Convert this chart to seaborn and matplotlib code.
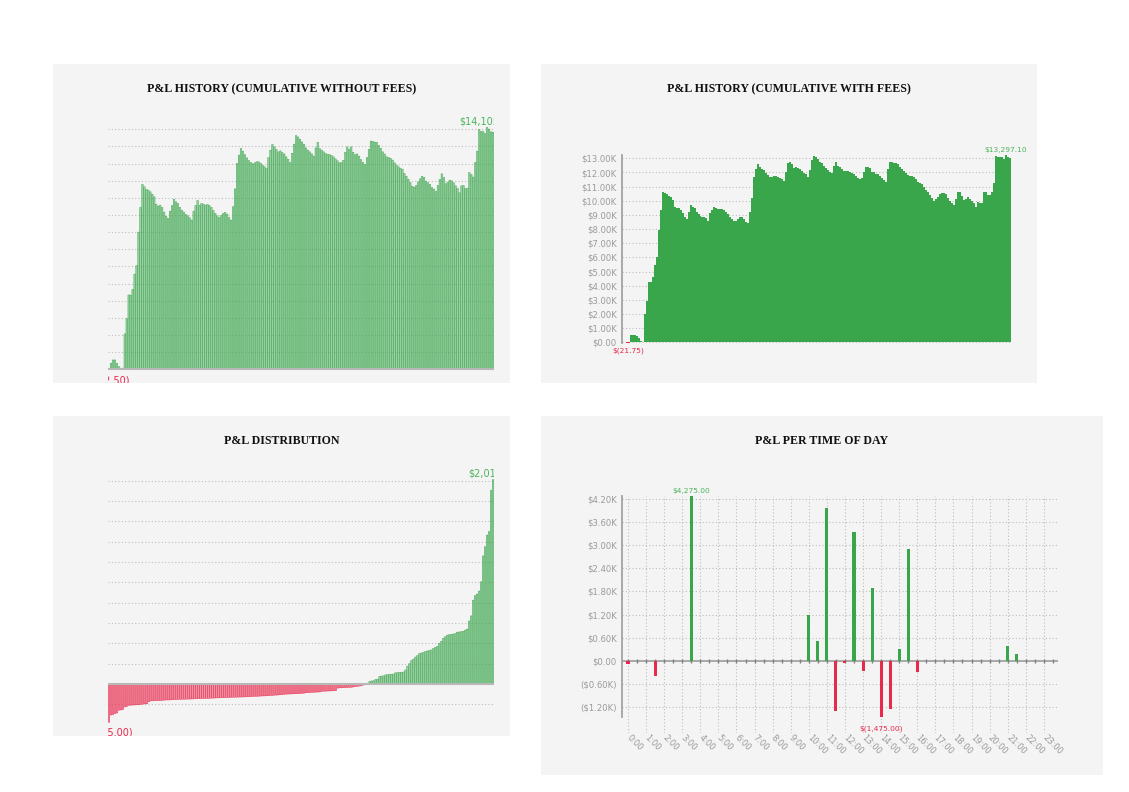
import numpy as np
import pandas as pd
import matplotlib
matplotlib.use("Agg")
import matplotlib.pyplot as plt
import matplotlib.transforms as mtrans
from matplotlib.patches import Rectangle
import seaborn as sns

# ---------------- data ----------------
cum_pnl_without_fees = [
    -12.5, 350, 540, 540, 350, 155, 60, 0,
    2060, 2950, 4330, 4330, 4660, 5550, 6040, 8000, 9440,
    10780, 10640, 10490, 10450, 10350, 10210, 10060, 9630, 9510, 9570, 9440, 9170, 8930, 8800,
    9220, 9550, 9920, 9770, 9670, 9440, 9280, 9170, 9030, 8950, 8830, 8700,
    9220, 9550, 9840, 9570, 9670, 9630, 9570, 9610, 9550, 9440, 9260, 9090, 8950, 8850,
    8970, 9090, 9150, 9050, 8850, 8700,
    9480, 10520, 12000,
    12490, 12870, 12720, 12520, 12330, 12170, 12060, 11980, 12040, 12100, 12100, 12020, 11900, 11810, 11710,
    12350, 12780, 13110, 12970, 12820, 12680, 12740, 12640, 12560, 12390, 12250, 12060,
    12600, 13130, 13630, 13550, 13420, 13260, 13130, 12910, 12780, 12680, 12560, 12430,
    12910, 13240, 12870, 12780, 12680, 12580, 12540, 12520, 12470, 12390, 12270, 12160, 12040, 12060, 12190,
    12660, 12970, 12830, 12970, 12660, 12520, 12560, 12430, 12230, 12060, 11940,
    12350, 12830,
    13310, 13290, 13250, 13230, 13050, 12880, 12680, 12550, 12390, 12350, 12300, 12200, 12040, 11910, 11810,
    11730, 11670, 11420, 11260, 11090, 10890, 10680, 10620,
    10720, 10930, 11110, 11260, 11190, 10970, 10880, 10780, 10600, 10510, 10370,
    10720, 11070, 11400, 11190, 10820, 10910, 11030, 10990, 10880, 10700, 10540, 10290,
    10700, 10720, 10540, 10560, 11480, 11360, 11210, 12060, 12720,
    13990, 13870, 13870, 13750, 14105, 14010, 13850, 13830,
]

cum_pnl_with_fees = [
    -5, -10, -15, -21.75, 520, 520, 500, 450, 280, 100, 0, 1980, 2940, 4290, 4290, 4640, 5460, 6050, 7940, 9350, 10650,
    10530, 10460, 10360, 10240, 10060, 9590, 9470, 9510, 9350, 9110, 8880, 8710, 9230, 9700, 9590,
    9470, 9230, 9070, 8950, 8880, 8880, 8760, 8570, 9110, 9350, 9590, 9470, 9420, 9420, 9400,
    9350, 9230, 9040, 8880, 8710, 8570, 8600, 8710, 8880, 8880, 8710, 8530, 8410, 9230, 10170,
    11700, 12250, 12580, 12410, 12250, 12180, 11990, 11820, 11660, 11700, 11780, 11780, 11660, 11590, 11520, 11420,
    12060, 12650, 12720, 12580, 12340, 12360, 12290, 12250, 12130, 11990, 11870, 11700,
    12180, 12880, 13190, 13120, 12950, 12760, 12650, 12480, 12290, 12180, 12060, 11940,
    12480, 12760, 12480, 12410, 12250, 12130, 12110, 12110, 12060, 11990, 11890, 11780, 11610, 11560, 11640,
    12060, 12390, 12410, 12340, 12010, 12010, 11870, 11860,
    11750, 11630, 11470, 11300,
    12220, 12740, 12720, 12690, 12650, 12580, 12410, 12220, 12110, 11940, 11850, 11780, 11750, 11710, 11520, 11300,
    11230, 11160, 10950, 10760, 10650, 10410, 10170, 10010,
    10100, 10240, 10480, 10570, 10570, 10460, 10170, 10010, 9820, 9680,
    10100, 10650, 10650, 10340, 10060, 10130, 10240, 10130, 10010, 9870, 9540, 9940, 9820, 9820,
    10650, 10600, 10410, 10410, 10600, 11280,
    13190, 13120, 13070, 13070, 12950, 13297.10, 13120, 13000,
]

trade_pnl_sorted = [
    -375, -305, -300, -290, -285, -258, -255, -250, -225, -220,
    -210, -208, -207, -206, -205, -204, -200, -198, -196, -195, -175,
    -166, -165, -164, -163, -163, -162, -160, -158, -157, -157, -156, -155,
    -153, -152, -152, -151, -150, -150, -149, -148, -148, -147,
    -146, -145, -145, -144, -143, -142, -142, -141, -140, -139,
    -138, -137, -136, -135, -135, -134, -133, -133, -132, -131, -130, -130,
    -129, -128, -128, -127, -126, -125, -124, -123,
    -122, -121, -120, -119, -118, -117, -116, -115,
    -113, -112, -110, -109, -108, -106, -104, -102,
    -100, -99, -98, -97, -96, -95, -94, -93, -92, -90,
    -86, -85, -83, -82, -81, -80, -79, -78,
    -72, -71, -70, -69, -68, -67, -66, -65,
    -40, -38, -37, -36, -35, -34, -33, -32,
    -28, -25, -22, -20, -15, -10,
    5, 8, 25, 30, 32, 45, 48, 75, 78, 80,
    90, 92, 95, 96, 98, 110, 112, 114, 116, 118, 138,
    175, 200, 230, 245, 265, 280, 300, 305, 310, 320, 325, 330, 335,
    350, 360, 370, 400, 420, 450, 465, 480, 485, 488, 492, 495,
    510, 512, 515, 518, 530, 540, 620, 670, 825, 870, 885, 915, 1005,
    1260, 1350, 1465, 1500, 1905, 2010,
]

slot_labels = [f"{h}:{m:02d}" for h in range(24) for m in (0, 30)]
slot_pnl = [
    -90, 0, 0, -390, 0, 0, 0, 4275,        # 0:00 - 3:30
    0, 0, 0, 0, 0, 0, 0, 0,                # 4:00 - 7:30
    0, 0, 0, 0, 1200, 520, 3960, -1300,    # 8:00 - 11:30
    -60, 3350, -270, 1900, -1475, -1250, 300, 2890,  # 12:00 - 15:30
    -290, 0, 0, 0, 0, 0, 0, -15,           # 16:00 - 19:30
    0, 0, 380, 180, 0, 0, 0, 0,            # 20:00 - 23:30
]
hour_labels = [f"{h}:00" for h in range(24)]

titles = [
    "P&L HISTORY (CUMULATIVE WITHOUT FEES)",
    "P&L HISTORY (CUMULATIVE WITH FEES)",
    "P&L DISTRIBUTION",
    "P&L PER TIME OF DAY",
]

# ---------------- style ----------------
W, H, DPI = 1129, 792, 100
GREEN = "#3aa64c"
GREEN_TXT = "#4db35c"
RED = "#e8294c"
PANEL = "#f4f4f4"
GRID = "#bdbdbd"
AXIS_GRAY = "#a3a3a3"
TICK_TXT = "#9a9a9a"

sns.set_theme(style="white")
plt.rcParams["font.family"] = ["DejaVu Sans"]

fig = plt.figure(figsize=(W / DPI, H / DPI), dpi=DPI)
fig.patch.set_facecolor("white")


def px_rect(x0, y0, x1, y1):
    return [x0 / W, 1 - y1 / H, (x1 - x0) / W, (y1 - y0) / H]


panels = [(53, 64, 510, 383), (541, 64, 1037, 383), (53, 416, 510, 736), (541, 416, 1103, 775)]
for (x0, y0, x1, y1) in panels:
    fig.add_artist(Rectangle((x0 / W, 1 - y1 / H), (x1 - x0) / W, (y1 - y0) / H,
                             transform=fig.transFigure, facecolor=PANEL, edgecolor="none", zorder=-5))

title_pos = [(281.5, 89), (789, 89), (281.5, 441), (822, 441)]
for t, (x, y) in zip(titles, title_pos):
    fig.text(x / W, 1 - y / H, t, ha="center", va="center", fontfamily="Liberation Serif",
             fontweight="bold", fontsize=8.6, color="#111111")


def draw_bars(ax, values, width, alpha, lw, snap=None):
    df = pd.DataFrame({"idx": np.arange(len(values)), "val": values})
    sns.barplot(data=df, x="idx", y="val", ax=ax, native_scale=True, width=width,
                color=GREEN, saturation=1, errorbar=None, linewidth=0)
    for p in ax.patches:
        c = RED if p.get_height() < 0 else GREEN
        p.set_facecolor(matplotlib.colors.to_rgba(c, alpha))
        p.set_edgecolor(c)
        p.set_linewidth(lw)
        p.set_zorder(2)
        p.set_snap(snap)


def clean(ax):
    ax.patch.set_alpha(0)
    for s in ax.spines.values():
        s.set_visible(False)
    ax.set_xlabel("")
    ax.set_ylabel("")


def offset(ax, dy_px):
    return mtrans.offset_copy(ax.transData, fig=fig, x=0, y=dy_px * 72 / DPI, units="points")


def money(v):
    return f"${v:,.2f}" if v >= 0 else f"$({abs(v):,.2f})"


# ---------- top-left: cumulative without fees ----------
ax1 = fig.add_axes(px_rect(108, 108, 494, 383))
draw_bars(ax1, cum_pnl_without_fees, 0.75, 0.45, 0.35, snap=False)
clean(ax1)
n1 = len(cum_pnl_without_fees)
ax1.set_xlim(-0.5, n1 - 0.5)
px1 = 17.14 / 1000
ax1.set_ylim(-(383 - 369.2) / px1, (369.2 - 108) / px1)
ax1.set_yticks(np.arange(1000, 14001, 1000))
ax1.set_xticks([])
ax1.tick_params(axis="y", length=0, labelleft=False)
ax1.yaxis.grid(True, linestyle=(0, (1, 2)), color=GRID, linewidth=0.8)
ax1.set_axisbelow(True)
ax1.axhline(0, color="#b8b8b8", lw=1.5, zorder=3)
v1 = np.array(cum_pnl_without_fees)
ax1.text(v1.argmax(), v1.max(), money(v1.max()), transform=offset(ax1, 2.5), ha="center",
         va="baseline", fontsize=7, color=GREEN_TXT, clip_on=True)
ax1.text(v1.argmin(), v1.min(), money(v1.min()), transform=offset(ax1, -14), ha="center",
         va="baseline", fontsize=7, color=RED, clip_on=True)

# ---------- top-right: cumulative with fees ----------
px2 = 14.15 / 1000
v2 = np.array(cum_pnl_with_fees)
ax2 = fig.add_axes(px_rect(621.7, 155, 1010.7, 342.3 + 21.75 * px2))
draw_bars(ax2, cum_pnl_with_fees, 1.0, 1.0, 0.0)
clean(ax2)
n2 = len(v2)
ax2.set_xlim(-0.5, n2 - 0.5)
ax2.set_ylim(-21.75, (342.3 - 155) / px2)
ax2.spines["left"].set_visible(True)
ax2.spines["left"].set_color(AXIS_GRAY)
ax2.spines["left"].set_linewidth(1.3)
ticks2 = np.arange(0, 13001, 1000)
ax2.set_yticks(ticks2)
ax2.set_yticklabels(["$0.00" if t == 0 else f"${t / 1000:.2f}K" for t in ticks2])
ax2.set_xticks([])
ax2.tick_params(axis="y", direction="inout", length=5, width=1, color=AXIS_GRAY,
                labelsize=6.1, labelcolor=TICK_TXT, pad=1)
ax2.yaxis.grid(True, linestyle=(0, (1, 2)), color=GRID, linewidth=0.8)
ax2.set_axisbelow(True)
ax2.text(v2.argmax(), v2.max(), money(v2.max()), transform=offset(ax2, 2.5), ha="center",
         va="baseline", fontsize=5.4, color=GREEN_TXT)
ax2.text(v2.argmin(), v2.min(), money(v2.min()), transform=offset(ax2, -10), ha="center",
         va="baseline", fontsize=5.4, color=RED)

# ---------- bottom-left: distribution ----------
px3 = 20.33 / 200
v3 = np.array(trade_pnl_sorted)
ax3 = fig.add_axes(px_rect(108, 462, 494, 736))
draw_bars(ax3, trade_pnl_sorted, 0.75, 0.45, 0.35, snap=False)
clean(ax3)
ax3.set_xlim(-0.5, len(v3) - 0.5)
ax3.set_ylim(-(736 - 684) / px3, (684 - 462) / px3)
ax3.set_yticks([-200] + list(range(200, 2001, 200)))
ax3.set_xticks([])
ax3.tick_params(axis="y", length=0, labelleft=False)
ax3.yaxis.grid(True, linestyle=(0, (1, 2)), color=GRID, linewidth=0.8)
ax3.set_axisbelow(True)
ax3.axhline(0, color="#b8b8b8", lw=1.5, zorder=3)
ax3.text(v3.argmax(), v3.max(), money(v3.max()), transform=offset(ax3, 3.5), ha="center",
         va="baseline", fontsize=7, color=GREEN_TXT, clip_on=True)
ax3.text(v3.argmin(), v3.min(), money(v3.min()), transform=offset(ax3, -13), ha="center",
         va="baseline", fontsize=7, color=RED, clip_on=True)

# ---------- bottom-right: per time of day ----------
px4 = (660.7 - 499) / 4200
v4 = np.array(slot_pnl)
slot_w = 9.04
ax4 = fig.add_axes(px_rect(621.7, 496, 1058, 733))
ax4.plot(np.arange(len(v4)), np.zeros(len(v4)), ls="none", marker="|", ms=3, mew=1.0,
         color="#808080", zorder=1.5)
draw_bars(ax4, slot_pnl, 0.34, 1.0, 0.0)
clean(ax4)
ax4.set_xlim(-(628 - 621.7) / slot_w, (1058 - 628) / slot_w)
ax4.set_ylim(-(733 - 660.7) / px4, (660.7 - 496) / px4)
ax4.spines["left"].set_visible(True)
ax4.spines["left"].set_color(AXIS_GRAY)
ax4.spines["left"].set_linewidth(1.3)
ax4.spines["left"].set_bounds(-1475, 4275)
ticks4 = np.arange(-1200, 4201, 600)


def k_fmt(t):
    if t == 0:
        return "$0.00"
    return f"${t / 1000:.2f}K" if t > 0 else f"(${abs(t) / 1000:.2f}K)"


ax4.set_yticks(ticks4)
ax4.set_yticklabels([k_fmt(t) for t in ticks4])
ax4.tick_params(axis="y", direction="inout", length=5, width=1, color=AXIS_GRAY,
                labelsize=6.1, labelcolor=TICK_TXT, pad=1)
ax4.set_xticks(np.arange(0, 48, 2))
ax4.set_xticklabels(hour_labels, rotation=-45, ha="left", va="center", rotation_mode="anchor")
ax4.tick_params(axis="x", length=0, labelsize=6, labelcolor=TICK_TXT, pad=2)
ax4.grid(True, linestyle=(0, (1, 2)), color=GRID, linewidth=0.8)
ax4.set_axisbelow(True)
ax4.axhline(0, color="#a9a9a9", lw=1.4, zorder=1.4)
ax4.text(v4.argmax(), v4.max(), money(v4.max()), transform=offset(ax4, 3), ha="center",
         va="baseline", fontsize=5.4, color=GREEN_TXT)
ax4.text(v4.argmin(), v4.min(), money(v4.min()), transform=offset(ax4, -13), ha="center",
         va="baseline", fontsize=5.4, color=RED)

fig.savefig("out.png", dpi=DPI, facecolor="white")
